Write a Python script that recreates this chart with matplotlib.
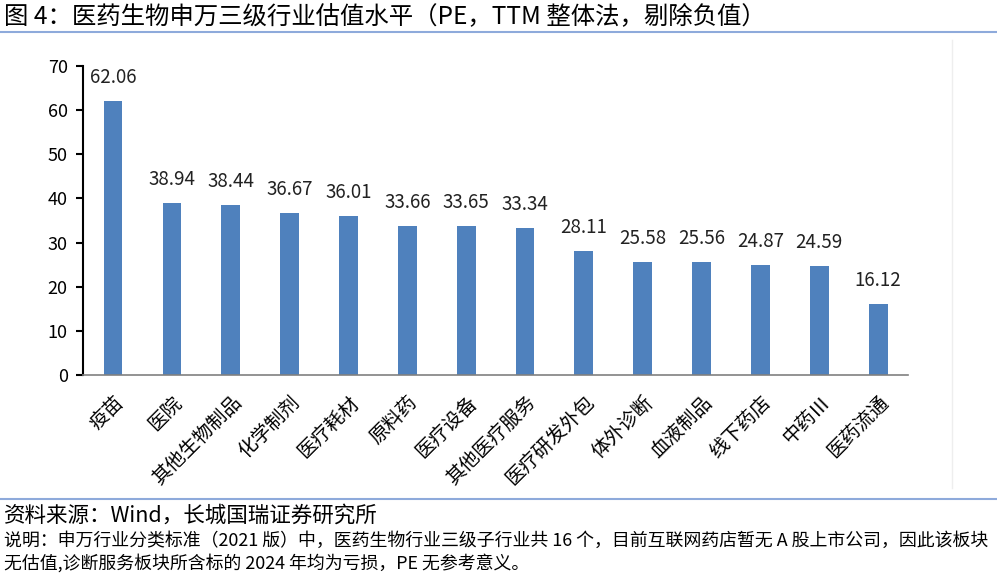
import matplotlib
matplotlib.use("Agg")
import matplotlib.pyplot as plt
from matplotlib.lines import Line2D

plt.rcParams['font.family'] = ['Noto Sans CJK SC', 'DejaVu Sans']

# 数据
categories = ['疫苗', '医院', '其他生物制品', '化学制剂', '医疗耗材', '原料药', '医疗设备',
              '其他医疗服务', '医疗研发外包', '体外诊断', '血液制品', '线下药店', '中药Ⅲ', '医药流通']
pe_values = [62.06, 38.94, 38.44, 36.67, 36.01, 33.66, 33.65, 33.34, 28.11, 25.58, 25.56, 24.87, 24.59, 16.12]
yticks = [0, 10, 20, 30, 40, 50, 60, 70]

title = '图 4：医药生物申万三级行业估值水平（PE，TTM 整体法，剔除负值）'
source = '资料来源：Wind，长城国瑞证券研究所'
note1 = '说明：申万行业分类标准（2021 版）中，医药生物行业三级子行业共 16 个，目前互联网药店暂无 A 股上市公司，因此该板块'
note2 = '无估值,诊断服务板块所含标的 2024 年均为亏损，PE 无参考意义。'

fig = plt.figure(figsize=(9.97, 5.78), dpi=100)
ax = fig.add_axes([0.0833, 0.351, 0.827, 0.535])

x = range(len(categories))
bars = ax.bar(x, pe_values, width=0.32, color='#4F81BD')
for xi, v in zip(x, pe_values):
    ax.text(xi, v + 3.0, f'{v:.2f}', ha='center', va='bottom', fontsize=13.5, color='#222222')

ax.set_xlim(-0.51, 13.5)
ax.set_ylim(0, 70)
ax.set_yticks(yticks)
ax.set_yticklabels([str(t) for t in yticks], fontsize=13)
ax.set_xticks(list(x))
ax.set_xticklabels(categories, rotation=45, ha='right', rotation_mode='anchor', fontsize=14)
ax.tick_params(axis='x', length=0, pad=12)
ax.tick_params(axis='y', direction='out', length=5, width=1.5, pad=6)

for s in ['top', 'right']:
    ax.spines[s].set_visible(False)
ax.spines['left'].set_linewidth(1.5)
ax.spines['left'].set_color('black')
ax.spines['bottom'].set_color('#808080')
ax.spines['bottom'].set_linewidth(1.2)

# 图表外框的淡线
fig.add_artist(Line2D([0.955, 0.955], [0.155, 0.93], color='#EEEEEE', lw=1))

# 标题与注释
fig.text(0.004, 0.972, title, fontsize=17.6, va='center', ha='left')
fig.add_artist(Line2D([0.0, 1.0], [0.945, 0.945], color='#8EAADB', lw=1.5))
fig.add_artist(Line2D([0.0, 1.0], [0.137, 0.137], color='#8EAADB', lw=1.5))
fig.text(0.004, 0.107, source, fontsize=15.5, va='center', ha='left')
fig.text(0.004, 0.064, note1, fontsize=12.9, va='center', ha='left')
fig.text(0.004, 0.026, note2, fontsize=12.9, va='center', ha='left')

fig.savefig('out.png', dpi=100)
